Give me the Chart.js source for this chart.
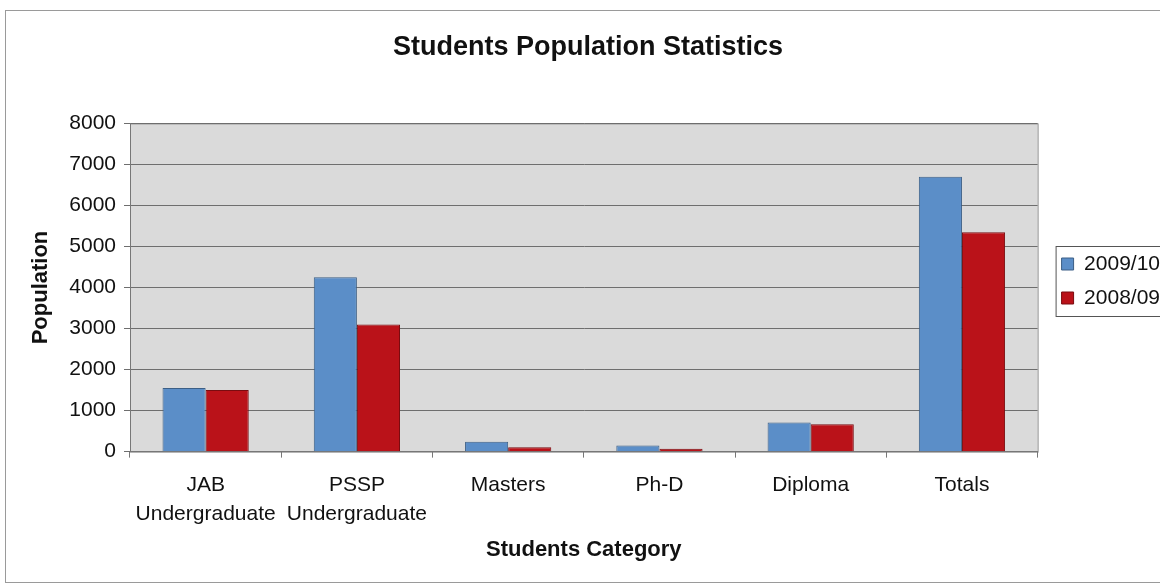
<!DOCTYPE html>
<html>
<head>
<meta charset="utf-8">
<script src="https://cdn.jsdelivr.net/npm/chart.js@4"></script>
<style>
    html, body { margin: 0; padding: 0; background: #fff; overflow: hidden; }
    #wrap {
        position: absolute; left: 5px; top: 10px;
        width: 1164px; height: 571px;
        border: 1px solid #9a9a9a;
        border-right: none;
    }
</style>
</head>
<body>
<div id="wrap"><canvas id="js--chart"></canvas></div>
<script>
// data
const categories = [["JAB", "Undergraduate"], ["PSSP", "Undergraduate"], "Masters", "Ph-D", "Diploma", "Totals"];
const pop2009 = [1550, 4250, 240, 150, 710, 6700];
const pop2008 = [1500, 3100, 110, 70, 670, 5350];
const yTicks = [0, 1000, 2000, 3000, 4000, 5000, 6000, 7000, 8000];

const font = "'Liberation Sans', Arial, sans-serif";
Chart.defaults.font.family = font;
Chart.defaults.color = "#111";

// grey plot background, legend gap and the box round the legend
const plotBack = {
    id: "plotBack",
    afterInit(chart) {
        const lg = chart.legend;
        const fit = lg.fit;
        lg.fit = function () {
            fit.call(this);
            this.width += 11;
        };
    },
    afterLayout(chart) {
        const lg = chart.legend;
        lg.left += 11;
        lg.right += 11;
        lg.top -= 6;
        lg.bottom -= 6;
    },
    beforeDraw(chart) {
        const c = chart.ctx, a = chart.chartArea;
        c.save();
        c.fillStyle = "#dadada";
        c.fillRect(a.left, a.top, a.right - a.left, a.bottom - a.top);
        c.strokeStyle = "#8c8c8c";
        c.lineWidth = 1;
        c.strokeRect(a.left + 0.5, a.top + 0.5, a.right - a.left, a.bottom - a.top);
        c.restore();
    },
    afterDraw(chart) {
        const c = chart.ctx, lg = chart.legend;
        const mid = (lg.top + lg.bottom) / 2;
        c.save();
        c.strokeStyle = "#555";
        c.lineWidth = 1;
        c.strokeRect(lg.left + 7.5, Math.round(mid - 35) + 0.5, 200, 70);
        c.restore();
    }
};

const data = {
    labels: categories,
    datasets: [
        {
            label: "2009/10",
            data: pop2009,
            backgroundColor: "#5b8ec8",
            borderColor: "#3c5f86",
            borderWidth: 1
        },
        {
            label: "2008/09",
            data: pop2008,
            backgroundColor: "#ba1219",
            borderColor: "#7a0c10",
            borderWidth: 1
        }
    ]
};

const config = {
    type: "bar",
    data: data,
    plugins: [plotBack],
    options: {
        responsive: true,
        maintainAspectRatio: false,
        animation: false,
        layout: { padding: { left: 0, right: 0, top: 0, bottom: 19 } },
        datasets: { bar: { categoryPercentage: 0.57, barPercentage: 1.0 } },
        plugins: {
            title: {
                display: true,
                text: "Students Population Statistics",
                font: { size: 27, weight: "bold" },
                color: "#111",
                padding: { top: 20, bottom: 60 }
            },
            legend: {
                position: "right",
                labels: {
                    font: { size: 21 },
                    color: "#111",
                    boxWidth: 12,
                    boxHeight: 12,
                    padding: 13
                }
            },
            tooltip: { enabled: false }
        },
        scales: {
            x: {
                grid: { drawOnChartArea: false, drawTicks: true, tickLength: 6, color: "#777" },
                border: { color: "#777" },
                ticks: { font: { size: 21, lineHeight: 1.38 }, color: "#111", padding: 13, maxRotation: 0, autoSkip: false },
                title: {
                    display: true,
                    text: "Students Category",
                    font: { size: 22, weight: "bold" },
                    color: "#111",
                    padding: { top: -5, bottom: 0 }
                }
            },
            y: {
                min: 0,
                max: 8000,
                afterBuildTicks(scale) { scale.ticks = yTicks.map(v => ({ value: v })); },
                afterFit(scale) { scale.width = 124; },
                grid: { color: "#6e6e6e", tickLength: 6 },
                border: { color: "#777" },
                ticks: {
                    font: { size: 21 },
                    color: "#111",
                    padding: 8,
                    callback: v => String(v)
                },
                title: {
                    display: true,
                    text: "Population",
                    font: { size: 22, weight: "bold" },
                    color: "#111",
                    padding: { top: 22, bottom: 0 }
                }
            }
        }
    }
};

new Chart(document.getElementById("js--chart"), config);
</script>
</body>
</html>
